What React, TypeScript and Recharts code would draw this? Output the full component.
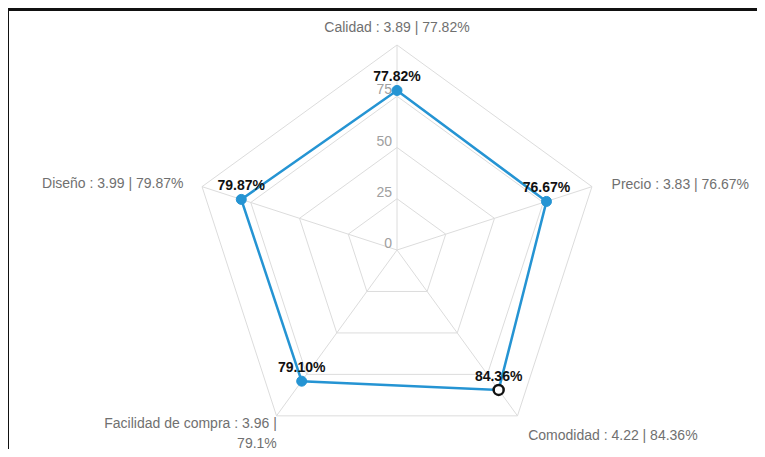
import { RadarChart, Radar, PolarGrid, PolarAngleAxis, PolarRadiusAxis, LabelList } from 'recharts'

const dimensions = ['Calidad', 'Precio', 'Comodidad', 'Facilidad de compra', 'Diseño']
const scores = [3.89, 3.83, 4.22, 3.96, 3.99]
const percents = [77.82, 76.67, 84.36, 79.1, 79.87]
const radiusTicks = [0, 25, 50, 75, 100]

const data = dimensions.map((name, i) => ({
  name,
  label: `${name} : ${scores[i]} | ${percents[i]}%`,
  value: percents[i],
}))

const LINE = '#2594d3'
const FONT = '"Liberation Sans", Arial, Helvetica, sans-serif'

// nudges for the outer labels, per axis (dx, baseline dy, anchor)
const labelOffsets = [
  { dx: 0, dy: -5, anchor: 'middle' },
  { dx: 12, dy: 5, anchor: 'start' },
  { dx: 6, dy: 18, anchor: 'start' },
  { dx: 5, dy: 6, anchor: 'end' },
  { dx: -11, dy: 4, anchor: 'end' },
]

function AngleTick(props: any) {
  const { x, y, payload, index } = props
  const off = labelOffsets[index] || { dx: 0, dy: 0, anchor: 'middle' }
  const text: string = data[index]?.label ?? payload.value
  // long labels wrap after the separator
  const lines = text.length > 28 ? [text.slice(0, text.indexOf('|') + 1), text.slice(text.indexOf('|') + 2)] : [text]
  return (
    <text x={x + off.dx} y={y + off.dy} textAnchor={off.anchor} fill="#707070" fontSize={14} fontFamily={FONT}>
      {lines.map((l, i) => (
        <tspan key={i} x={x + off.dx} dy={i === 0 ? 0 : 20}>
          {l}
        </tspan>
      ))}
    </text>
  )
}

function RadiusTick(props: any) {
  const { x, y, payload } = props
  if (payload.value === 100) return null
  return (
    <text x={x - 5} y={y - 2} textAnchor="end" fill="#a0a0a0" fontSize={14} fontFamily={FONT}>
      {payload.value}
    </text>
  )
}

function PointDot(props: any) {
  const { cx, cy, index } = props
  if (index === 2) {
    return <circle key={index} cx={cx} cy={cy} r={5} fill="#fff" stroke="#111" strokeWidth={2.5} />
  }
  return <circle key={index} cx={cx} cy={cy} r={5} fill={LINE} stroke={LINE} strokeWidth={1} />
}

function ValueLabel(props: any) {
  const { x, y, value } = props
  return (
    <text x={x} y={y - 9} textAnchor="middle" fill="#111" fontSize={14} fontWeight="bold" fontFamily={FONT}>
      {`${Number(value).toFixed(2)}%`}
    </text>
  )
}

export default function App() {
  return (
    <div style={{ position: 'relative', margin: -8, width: 765, height: 457, overflow: 'hidden', background: '#fff' }}>
      <div
        style={{
          position: 'absolute',
          left: 6,
          top: 8,
          width: 820,
          height: 520,
          borderTop: '3px solid #111',
          borderLeft: '3px solid #111',
        }}
      />
      <div style={{ position: 'absolute', left: 0, top: 0 }}>
        <RadarChart width={765} height={457} data={data} cx={397} cy={250} outerRadius={205}>
          <PolarGrid gridType="polygon" stroke="#dcdcdc" strokeWidth={1} />
          <PolarAngleAxis dataKey="name" tick={<AngleTick />} tickLine={false} axisLine={false} />
          <PolarRadiusAxis
            angle={90}
            domain={[0, 100]}
            ticks={radiusTicks as any}
            tickCount={5}
            axisLine={false}
            tick={<RadiusTick />}
          />
          <Radar
            dataKey="value"
            stroke={LINE}
            strokeWidth={2.5}
            fill={LINE}
            fillOpacity={0}
            dot={<PointDot />}
            isAnimationActive={false}
          >
            <LabelList dataKey="value" content={<ValueLabel />} />
          </Radar>
        </RadarChart>
      </div>
    </div>
  )
}
